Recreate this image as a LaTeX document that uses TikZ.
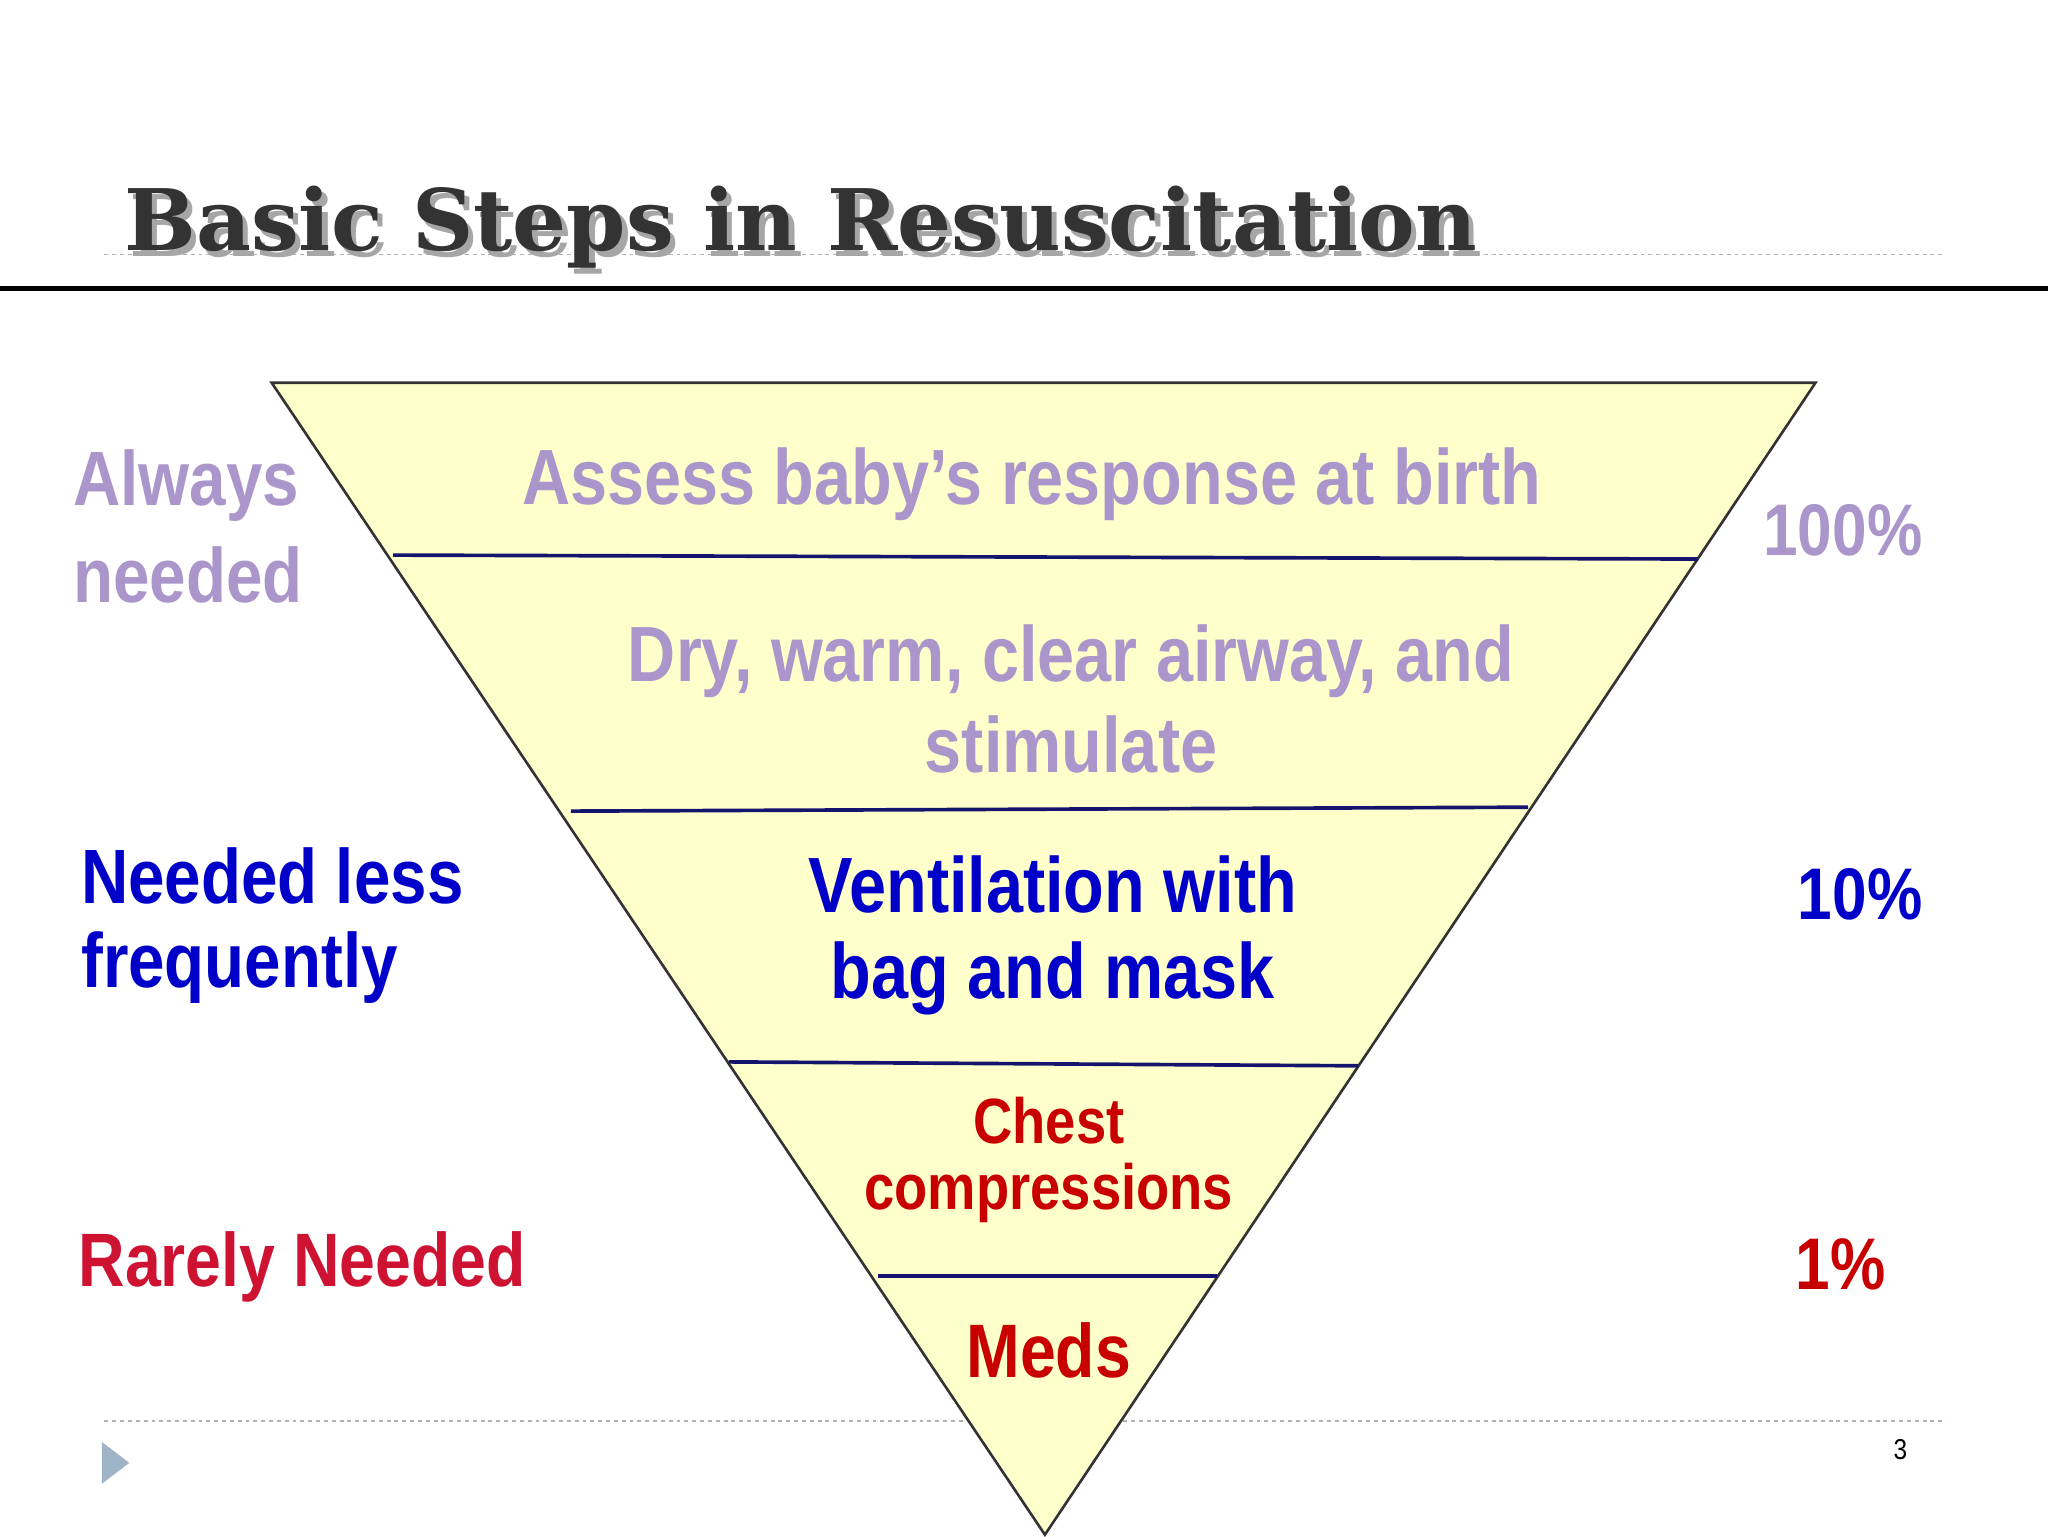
\documentclass[tikz,border=0pt]{standalone}
\usepackage{fontspec}
\setmainfont{Liberation Sans}[FakeStretch=0.85]
\newfontfamily\titlefont{DejaVu Serif}
\definecolor{lav}{RGB}{170,150,202}
\definecolor{dblue}{RGB}{0,0,200}
\definecolor{dred}{RGB}{200,0,0}
\definecolor{crim}{RGB}{205,18,50}
\definecolor{tri}{RGB}{255,255,204}
\definecolor{sep}{RGB}{20,20,110}
\definecolor{markcol}{RGB}{160,180,200}
\begin{document}
\begin{tikzpicture}[x=1pt,y=-1pt,
  lbl/.style={font=\bfseries\fontsize{60}{66}\selectfont,align=center,inner sep=0},
  side/.style={font=\bfseries\fontsize{58}{72}\selectfont,align=left,anchor=north west,inner sep=0},
  pct/.style={font=\bfseries\fontsize{56}{60}\selectfont,anchor=east,inner sep=0},
  sepline/.style={draw=sep,line width=2.8pt}]
\useasboundingbox (0,0) rectangle (1568,1176);
\fill[white] (0,0) rectangle (1568,1176);
% title lines
\draw[gray!60,dashed,line width=1pt] (80,195) coordinate (dl1) -- (1490,195) coordinate (dr1);
\draw[black,line width=4pt] (0,221) coordinate (sl) -- (1568,221) coordinate (sr);
\draw[gray!60,dashed,line width=1pt] (80,1088) coordinate (dl2) -- (1490,1088) coordinate (dr2);
\node[anchor=base west,inner sep=0,text=gray!70,font=\titlefont\bfseries\fontsize{65}{65}\selectfont] (tsh) at (99,196) {Basic Steps in Resuscitation};
\node[anchor=base west,inner sep=0,text=black!80,font=\titlefont\bfseries\fontsize{65}{65}\selectfont] (title) at (95,192) {Basic Steps in Resuscitation};
% triangle
\coordinate (A) at (208,293); \coordinate (B) at (1390,293); \coordinate (C) at (800,1175);
\filldraw[fill=tri,draw=black!80,line width=2pt] (A) -- (B) -- (C) -- cycle;
\coordinate (l1) at (301,425); \coordinate (r1) at (1300,428);
\coordinate (l2) at (437,621); \coordinate (r2) at (1170,618);
\coordinate (l3) at (558,813); \coordinate (r3) at (1040,816);
\coordinate (l4) at (672,977); \coordinate (r4) at (932,977);
\draw[sepline] (l1) -- (r1); \draw[sepline] (l2) -- (r2);
\draw[sepline] (l3) -- (r3); \draw[sepline] (l4) -- (r4);
% labels
\node[lbl,text=lav] (t1) at (790,371) {Assess baby’s response at birth};
\node[lbl,text=lav,font=\bfseries\fontsize{60}{70}\selectfont] (t2) at (820,535) {Dry, warm, clear airway, and\\stimulate};
\node[lbl,text=dblue,font=\bfseries\fontsize{60}{66}\selectfont] (t3) at (806,716) {Ventilation with\\bag and mask};
\node[lbl,text=dred,font=\bfseries\fontsize{49}{50}\selectfont] (t4) at (803,888) {Chest\\compressions};
\node[lbl,text=dred,font=\bfseries\fontsize{58}{60}\selectfont] (t5) at (803,1034) {Meds};
\node[side,text=lav,font=\bfseries\fontsize{59}{74}\selectfont] (s1) at (56,344) {Always\\needed};
\node[side,text=dblue,font=\bfseries\fontsize{59}{64}\selectfont] (s2) at (62,649) {Needed less\\frequently};
\node[side,text=crim] (s3) at (60,943) {Rarely Needed};
\node[pct,text=lav] (p1) at (1472,406) {100\%};
\node[pct,text=dblue] (p2) at (1472,685) {10\%};
\node[pct,text=dred] (p3) at (1444,968) {1\%};
% footer
\fill[markcol] (78,1104) -- (99,1120) -- (78,1136) -- cycle;
\node[inner sep=0,font=\fontsize{22}{22}\selectfont] (pg) at (1455,1110) {3};
\end{tikzpicture}
\end{document}
